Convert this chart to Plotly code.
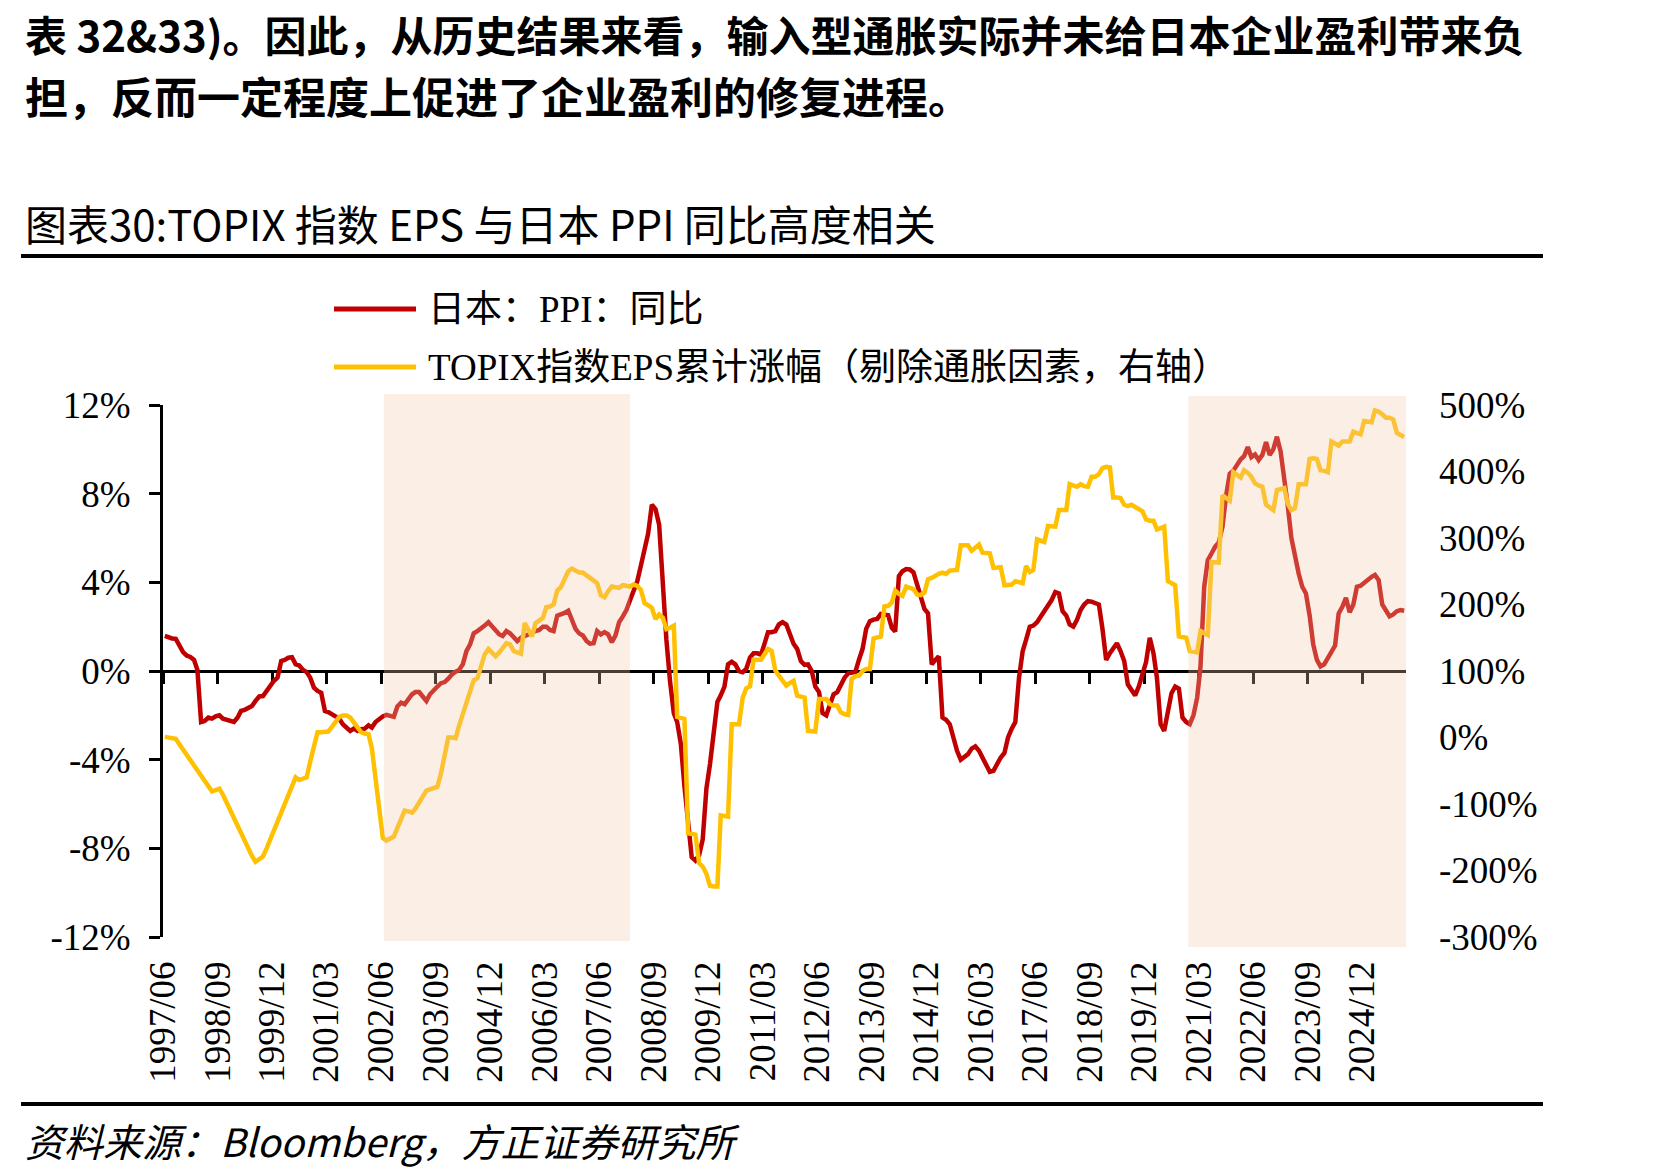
import plotly.graph_objects as go
import pandas as pd

# ---------------- data ----------------
start_month = "1997-06"
n_months = 342  # 1997/06 .. 2025/11

# Japan PPI YoY (%), monthly
ppi_yoy = [
    1.58, 1.50, 1.47, 1.45, 1.10, 0.85, 0.70,                                   # 1997 Jun-Dec
    0.63, 0.50, 0.05, -2.30, -2.25, -2.10, -2.15, -2.05, -2.00, -2.15, -2.20, -2.25,  # 1998
    -2.30, -2.10, -1.80, -1.75, -1.65, -1.58, -1.35, -1.15, -1.13, -0.90, -0.60, -0.45,  # 1999
    -0.30, 0.45, 0.50, 0.60, 0.62, 0.30, 0.25, 0.05, -0.05, -0.30, -0.75, -0.90,  # 2000
    -0.98, -1.80, -1.85, -1.95, -2.00, -2.15, -2.40, -2.55, -2.70, -2.60, -2.70, -2.62,  # 2001
    -2.60, -2.45, -2.55, -2.30, -2.15, -2.05, -1.98, -2.00, -2.07, -1.60, -1.43, -1.50,  # 2002
    -1.25, -1.05, -0.95, -0.95, -1.15, -1.35, -1.05, -0.85, -0.70, -0.55, -0.50, -0.35,  # 2003
    -0.15, -0.03, 0.05, 0.30, 0.90, 1.20, 1.70, 1.80, 1.90, 2.05, 2.20, 2.00,  # 2004
    1.80, 1.65, 1.58, 1.80, 1.70, 1.55, 1.35, 1.50, 1.55, 1.65, 1.75, 1.80,  # 2005
    1.85, 2.00, 2.00, 1.85, 1.80, 2.50, 2.55, 2.62, 2.72, 2.30, 1.90, 1.70,  # 2006
    1.60, 1.35, 1.23, 1.25, 1.80, 1.65, 1.75, 1.65, 1.30, 1.60, 2.20, 2.45,  # 2007
    2.75, 3.20, 3.60, 4.05, 4.75, 5.40, 6.20, 7.50, 7.30, 6.60, 3.60, 1.40,  # 2008
    -0.50, -1.90, -2.30, -3.30, -5.20, -6.90, -8.40, -8.55, -8.30, -7.60, -5.30, -4.20,  # 2009
    -2.60, -1.40, -1.10, -0.70, 0.30, 0.42, 0.30, 0.00, -0.05, 0.10, 0.60, 0.80,  # 2010
    0.80, 0.74, 1.20, 1.75, 1.75, 1.80, 2.10, 2.20, 2.10, 1.70, 1.23, 1.00,  # 2011
    0.45, 0.28, 0.30, 0.00, -0.70, -0.95, -1.90, -2.00, -1.55, -1.05, -0.95, -0.60,  # 2012
    -0.30, -0.10, -0.06, -0.05, 0.50, 1.00, 1.90, 2.25, 2.32, 2.35, 2.57, 2.55,  # 2013
    2.52, 1.95, 1.78, 4.28, 4.50, 4.60, 4.58, 4.45, 3.88, 3.50, 2.80, 2.60,  # 2014
    0.30, 0.50, 0.66, -2.10, -2.20, -2.40, -3.00, -3.60, -4.00, -3.90, -3.75, -3.50,  # 2015
    -3.40, -3.60, -3.90, -4.20, -4.55, -4.50, -4.20, -3.90, -3.70, -3.00, -2.60, -2.30,  # 2016
    -0.30, 0.90, 1.40, 2.00, 2.05, 2.20, 2.45, 2.70, 2.95, 3.20, 3.56, 3.50,  # 2017
    2.70, 2.50, 2.10, 2.00, 2.30, 2.75, 3.00, 3.15, 3.13, 3.05, 3.00, 1.90,  # 2018
    0.50, 0.80, 1.00, 1.25, 0.90, 0.45, -0.60, -0.90, -1.10, -0.70, -0.20, 0.40,  # 2019
    1.50, 0.80, -0.30, -2.40, -2.70, -1.90, -1.00, -0.70, -0.80, -2.10, -2.30, -2.40,  # 2020
    -2.00, -1.20, 0.20, 3.80, 5.00, 5.30, 5.60, 5.80, 6.50, 7.90, 8.90, 9.04,  # 2021
    9.30, 9.55, 9.69, 10.10, 9.65, 9.77, 9.52, 9.75, 10.33, 9.75, 10.00, 10.57,  # 2022
    9.90, 8.80, 7.50, 6.00, 5.10, 4.40, 3.80, 3.50, 2.50, 1.20, 0.50, 0.21,  # 2023
    0.30, 0.60, 0.95, 1.15, 2.60, 2.90, 3.30, 2.65, 3.00, 3.80, 3.85, 4.00,  # 2024
    4.15, 4.25, 4.33, 4.10, 3.00, 2.70, 2.47, 2.55, 2.70, 2.75, 2.72,  # 2025 Jan-Nov
]

# TOPIX EPS cumulative change, inflation-adjusted (%), right axis
eps_cum = [
    1, 0, 0, -2, -10, -18, -26,  # 1997 Jun-Dec
    -34, -42, -50, -58, -67, -75, -81, -79, -77, -86, -98, -109,  # 1998
    -121, -132, -144, -155, -167, -178, -187, -183, -179, -167, -153, -140,  # 1999
    -126, -113, -99, -86, -72, -60, -64, -62, -60, -36, -12, 8,  # 2000
    8, 9, 9, 16, 24, 31, 33, 33, 30, 22, 15, 8,  # 2001
    6, 5, -16, -61, -106, -151, -155, -152, -149, -136, -123, -110,  # 2002
    -111, -113, -107, -97, -88, -80, -78, -76, -74, -54, -27, 0,  # 2003
    0, -1, 18, 35, 52, 69, 86, 89, 106, 125, 133, 127,  # 2004
    122, 128, 135, 142, 140, 130, 128, 126, 172, 162, 152, 172,  # 2005
    176, 180, 196, 197, 200, 221, 226, 240, 250, 254, 251, 248,  # 2006
    248, 244, 240, 237, 232, 214, 211, 220, 227, 226, 225, 229,  # 2007
    228, 227, 230, 228, 222, 202, 199, 195, 178, 185, 180, 163,  # 2008
    165, 168, 31, 30, 28, -144, -145, -146, -189, -194, -205, -223,  # 2009
    -224, -224, -117, -118, -119, 20, 20, 20, 60, 74, 77, 117,  # 2010
    117, 117, 125, 133, 130, 101, 93, 85, 78, 82, 85, 63,  # 2011
    62, 60, 10, 9, 9, 58, 58, 58, 50, 48, 48, 38,  # 2012
    35, 34, 88, 92, 93, 100, 103, 103, 149, 150, 152, 197,  # 2013
    198, 203, 221, 216, 213, 227, 225, 223, 215, 214, 218, 238,  # 2014
    240, 244, 246, 248, 246, 251, 252, 252, 289, 289, 289, 281,  # 2015
    285, 290, 278, 277, 277, 255, 255, 256, 229, 229, 230, 235,  # 2016
    233, 232, 258, 249, 252, 298, 296, 294, 318, 318, 317, 342,  # 2017
    342, 342, 381, 379, 377, 381, 378, 377, 392, 392, 396, 405,  # 2018
    407, 406, 361, 361, 360, 350, 348, 350, 347, 343, 340, 328,  # 2019
    326, 326, 313, 315, 317, 235, 232, 229, 152, 151, 150, 130,  # 2020
    129, 128, 160, 157, 154, 264, 264, 263, 364, 360, 356, 399,  # 2021
    395, 391, 402, 398, 392, 382, 379, 377, 350, 346, 342, 372,  # 2022
    373, 375, 352, 342, 345, 381, 381, 381, 419, 420, 419, 402,  # 2023
    401, 399, 445, 441, 439, 445, 445, 445, 460, 458, 456, 476,  # 2024
    475, 474, 492, 490, 486, 481, 481, 478, 458, 455, 452,  # 2025 Jan-Nov
]

x_tick_labels = ["1997/06", "1998/09", "1999/12", "2001/03", "2002/06", "2003/09",
                 "2004/12", "2006/03", "2007/06", "2008/09", "2009/12", "2011/03",
                 "2012/06", "2013/09", "2014/12", "2016/03", "2017/06", "2018/09",
                 "2019/12", "2021/03", "2022/06", "2023/09", "2024/12"]
left_tick_vals = [-12, -8, -4, 0, 4, 8, 12]
left_tick_text = ["-12%", "-8%", "-4%", "0%", "4%", "8%", "12%"]
right_tick_vals = [-300, -200, -100, 0, 100, 200, 300, 400, 500]
right_tick_text = ["-300%", "-200%", "-100%", "0%", "100%", "200%", "300%", "400%", "500%"]

shade_periods = [("2002-06-25", "2008-02-15"), ("2020-12-04", "2026-01-01")]

name_ppi = "日本：PPI：同比"
name_eps = "TOPIX指数EPS累计涨幅（剔除通胀因素，右轴）"

# ---------------- figure ----------------
months = pd.date_range(start_month + "-01", periods=n_months, freq="MS") + pd.Timedelta(days=15)
tick_dates = [s.replace("/", "-") + "-01" for s in x_tick_labels]
x_range = ["1997-06-01", "2025-12-01"]

RED = "#C00000"
YEL = "#FFC000"
SERIF = "Liberation Serif, 'Times New Roman', 'Noto Sans CJK SC', serif"
CJK = "'Noto Sans CJK SC', sans-serif"

W, H = 1671, 1175
L, R, T, B = 163, 265, 405, 238
PW, PH = W - L - R, H - T - B


def xp(px):
    return (px - L) / PW


def yp(py):
    return (H - B - py) / PH


fig = go.Figure()
fig.add_trace(go.Scatter(x=months, y=ppi_yoy, name=name_ppi, mode="lines",
                         line=dict(color=RED, width=4.5), xaxis="x", yaxis="y",
                         showlegend=False))
fig.add_trace(go.Scatter(x=months, y=eps_cum, name=name_eps, mode="lines",
                         line=dict(color=YEL, width=4.5), xaxis="x", yaxis="y2",
                         showlegend=False))
# helper trace so the zero-crossing axis gets drawn
fig.add_trace(go.Scatter(x=[months[0]], y=[0], mode="markers", marker=dict(opacity=0),
                         xaxis="x2", yaxis="y", showlegend=False, hoverinfo="skip"))

shapes = []
for i, (a, b) in enumerate(shade_periods):
    top = yp(394) if i == 0 else yp(396)
    bot = yp(941) if i == 0 else yp(947)
    shapes.append(dict(type="rect", xref="x", yref="paper", x0=a, x1=b, y0=bot, y1=top,
                       fillcolor="rgba(242,200,170,0.30)", line=dict(width=0), layer="above"))
# legend samples
shapes.append(dict(type="line", xref="paper", yref="paper", x0=xp(334), x1=xp(416),
                   y0=yp(309), y1=yp(309), line=dict(color=RED, width=5)))
shapes.append(dict(type="line", xref="paper", yref="paper", x0=xp(334), x1=xp(416),
                   y0=yp(367), y1=yp(367), line=dict(color=YEL, width=5)))
# rules
shapes.append(dict(type="line", xref="paper", yref="paper", x0=xp(21), x1=xp(1543),
                   y0=yp(256), y1=yp(256), line=dict(color="black", width=4)))
shapes.append(dict(type="line", xref="paper", yref="paper", x0=xp(21), x1=xp(1543),
                   y0=yp(1104), y1=yp(1104), line=dict(color="black", width=4)))

annotations = [
    dict(text="<b>表 32&33)。因此，从历史结果来看，输入型通胀实际并未给日本企业盈利带来负</b>",
         x=xp(23), y=yp(34), font=dict(family=CJK, size=42, color="black")),
    dict(text="<b>担，反而一定程度上促进了企业盈利的修复进程。</b>",
         x=xp(23), y=yp(95), font=dict(family=CJK, size=43, color="black")),
    dict(text="图表30:TOPIX 指数 EPS 与日本 PPI 同比高度相关",
         x=xp(23), y=yp(222), font=dict(family=CJK, size=42, color="black")),
    dict(text="<i>资料来源：Bloomberg，方正证券研究所</i>",
         x=xp(23), y=yp(1140), font=dict(family=CJK, size=39, color="black")),
    dict(text=name_ppi, x=xp(426), y=yp(309), font=dict(family=SERIF, size=37, color="black")),
    dict(text=name_eps, x=xp(426), y=yp(367), font=dict(family=SERIF, size=37, color="black")),
]
for a in annotations:
    a.update(xref="paper", yref="paper", xanchor="left", yanchor="middle", showarrow=False)

axis_font = dict(family=SERIF, size=37, color="black")

fig.update_layout(
    width=W, height=H, autosize=False,
    margin=dict(l=L, r=R, t=T, b=B, pad=0),
    paper_bgcolor="white", plot_bgcolor="white",
    showlegend=False,
    shapes=shapes, annotations=annotations,
    xaxis=dict(type="date", range=x_range, tickvals=tick_dates, ticktext=x_tick_labels,
               tickangle=-90, tickfont=axis_font, showline=False, ticks="",
               showgrid=False, zeroline=False, automargin=False, ticklabelstandoff=16),
    xaxis2=dict(type="date", range=x_range, overlaying="x", anchor="free", position=0.5,
                tickvals=tick_dates, showticklabels=False, showline=True, linecolor="black",
                linewidth=3, ticks="outside", ticklen=11, tickwidth=2.5, tickcolor="black",
                showgrid=False, zeroline=False, automargin=False, layer="below traces"),
    yaxis=dict(range=[-12, 12], tickvals=left_tick_vals, ticktext=left_tick_text,
               tickfont=axis_font, showline=True, linecolor="black", linewidth=3,
               ticks="outside", ticklen=11, tickwidth=3, tickcolor="black",
               showgrid=False, zeroline=False, automargin=False, ticklabelstandoff=11),
    yaxis2=dict(range=[-300, 500], overlaying="y", side="right", tickvals=right_tick_vals,
                ticktext=right_tick_text, tickfont=axis_font, showline=False, ticks="",
                showgrid=False, zeroline=False, automargin=False, ticklabelstandoff=32),
)

fig.write_html("out.html")
